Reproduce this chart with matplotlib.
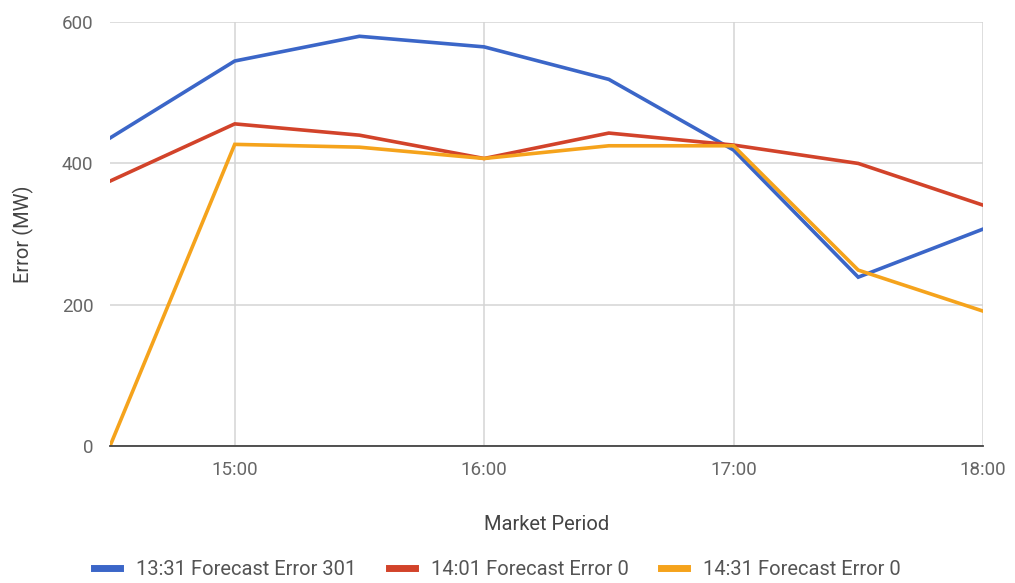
import matplotlib.pyplot as plt

plt.rcParams['font.family'] = ['Roboto', 'DejaVu Sans']

# market periods in hours (14:30 .. 18:00)
periods = [14.5, 15.0, 15.5, 16.0, 16.5, 17.0, 17.5, 18.0]
err_1331 = [436, 545, 580, 565, 519, 419, 239, 307]
err_1401 = [375, 456, 440, 407, 443, 426, 400, 341]
err_1431 = [0, 427, 423, 407, 425, 425, 249, 191]

labels = ["13:31 Forecast Error 301", "14:01 Forecast Error 0", "14:31 Forecast Error 0"]
colors = ["#3b66c8", "#d2432a", "#f5a31c"]

xticks = [15, 16, 17, 18]
xticklabels = ["15:00", "16:00", "17:00", "18:00"]
yticks = [0, 200, 400, 600]

fig = plt.figure(figsize=(10.15, 5.83), dpi=100)
ax = fig.add_axes([0.1084, 0.235, 0.86, 0.727])

for ys, c, lab in zip([err_1331, err_1401, err_1431], colors, labels):
    ax.plot(periods, ys, color=c, lw=2.6, label=lab, solid_joinstyle='miter')

ax.set_xlim(14.5, 18)
ax.set_ylim(0, 600)
ax.set_xticks(xticks)
ax.set_xticklabels(xticklabels)
ax.set_yticks(yticks)

ax.grid(True, color="#d4d4d4", lw=1.1)
ax.set_axisbelow(True)
for s in ["top", "right", "left"]:
    ax.spines[s].set_visible(False)
ax.spines["bottom"].set_color("#444444")
ax.spines["bottom"].set_linewidth(1.3)
ax.spines["bottom"].set_zorder(5)
ax.tick_params(length=0, labelsize=13.5, colors="#666666", pad=11)
ax.tick_params(axis='y', pad=12)

ax.set_xlabel("Market Period", fontsize=14.5, color="#444444", labelpad=26)
ax.set_ylabel("Error (MW)", fontsize=14.5, color="#444444", labelpad=20)

leg = fig.legend(loc="lower center", bbox_to_anchor=(0.49, -0.025), ncol=3,
                 frameon=False, fontsize=14.5, handlelength=1.3, handletextpad=0.8,
                 columnspacing=1.6)
for h in leg.get_lines():
    h.set_linewidth(5)
for t in leg.get_texts():
    t.set_color("#555555")

fig.savefig("out.png", dpi=100)
